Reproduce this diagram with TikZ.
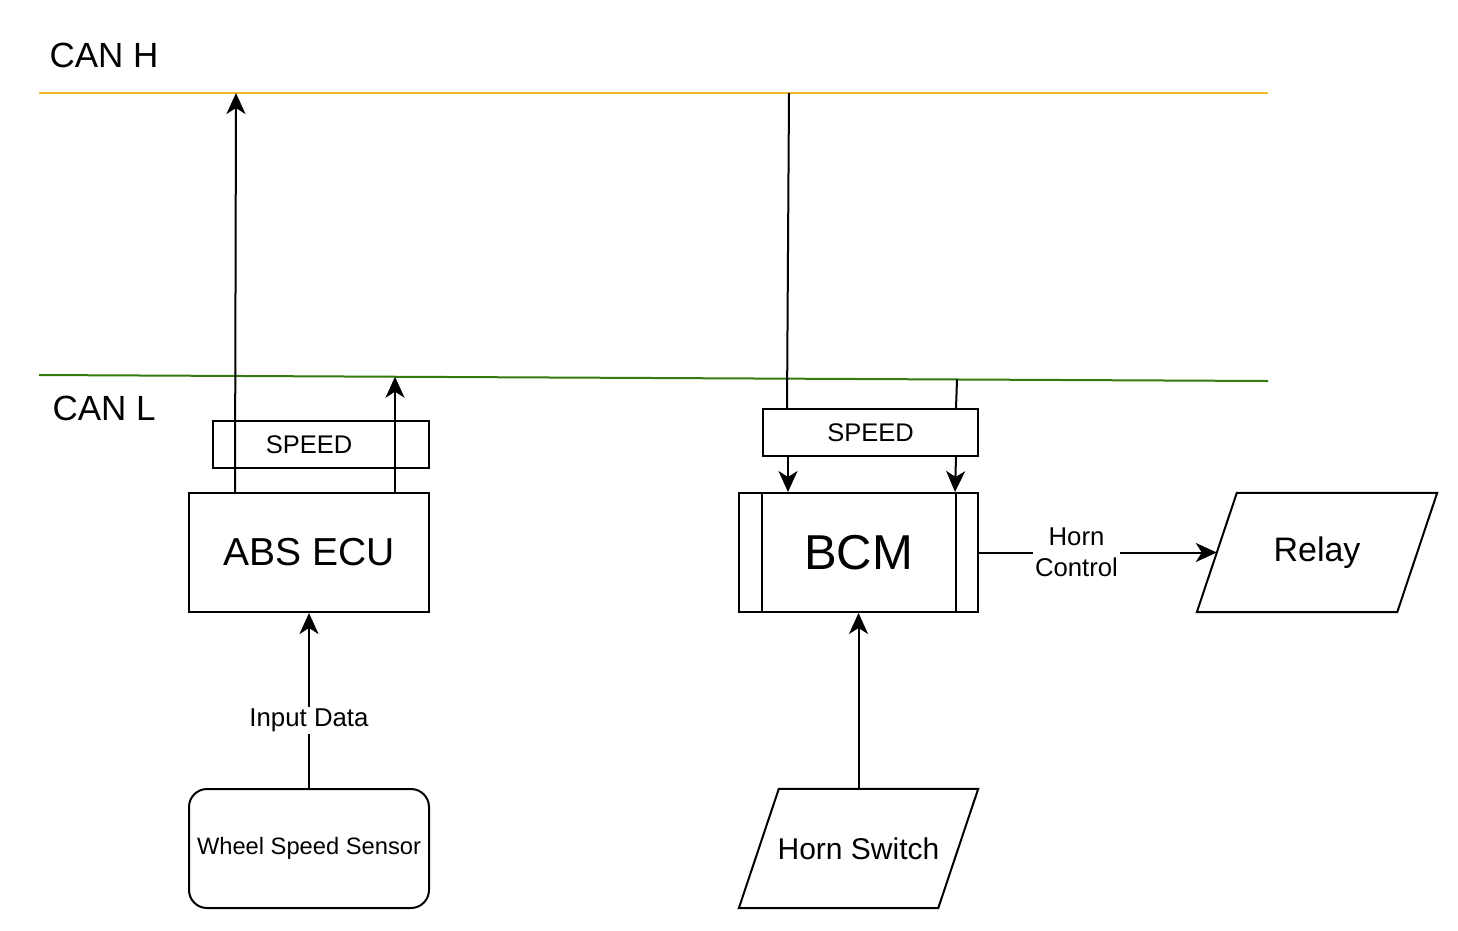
\documentclass[tikz,border=0pt]{standalone}
\usepackage{fontspec}
\setmainfont{Liberation Sans}
\usetikzlibrary{arrows.meta,calc}
\definecolor{canh}{RGB}{238,184,40}
\definecolor{canl}{RGB}{52,122,16}
\newcommand{\fs}[1]{\fontsize{#1}{#1}\selectfont}
\tikzset{
  box/.style={draw,line width=2pt,rectangle,inner sep=0pt,align=center},
  para/.style={rectangle,inner sep=0pt,minimum width=200pt,minimum height=119pt,align=center},
  paraline/.style={line width=2pt,line join=miter},
  conn/.style={line width=2pt},
  arr/.style={line width=2pt,-{Stealth[length=21pt,width=19pt,inset=6pt]}},
  lbl/.style={fill=white,inner sep=2pt,align=center},
}
\begin{document}
\begin{tikzpicture}[x=1pt,y=-1pt]
\useasboundingbox (0,0) rectangle (1458,930);
\fill[white] (0,0) rectangle (1458,930);
% buses
\coordinate (hL) at (39,93);
\coordinate (hR) at (1268,93);
\coordinate (lL) at (39,375);
\coordinate (lR) at (1268,381);
\draw[canh,line width=2pt] (hL) -- (hR);
\draw[canl,line width=2pt] (lL) -- (lR);
\node[anchor=west] (canhlbl) at (46,55) {\fs{35}CAN H};
\node[anchor=west] (canllbl) at (49,408) {\fs{35}CAN L};
% taps
\coordinate (hA) at (236,93);
\coordinate (lA) at (395,376.7);
\coordinate (hB) at (789,93);
\coordinate (lB) at (957,379.5);
% ABS side
\node[box,minimum width=240pt,minimum height=119pt] (abs) at (309,552.5) {\fs{39}ABS ECU};
\node[box,minimum width=216pt,minimum height=47pt] (spdA) at (321,444.5) {};
\node (spdAtxt) at (309,444.5) {\fs{25.5}SPEED};
\node[box,rounded corners=18pt,minimum width=240pt,minimum height=119pt] (wss) at (309,848.5) {\fs{23.7}Wheel Speed Sensor};
\draw[arr] (abs.north -| 235,0) -- (hA);
\draw[arr] (abs.north -| lA) -- (lA);
\draw[arr] (wss.north) -- node[lbl,pos=0.385] {\fs{25.8}Input Data} (abs.south);
% BCM side
\node[box,minimum width=239pt,minimum height=119pt] (bcm) at (858.5,552.5) {\fs{49}BCM};
\draw[line width=2pt] ([xshift=24pt]bcm.north west) -- ([xshift=24pt]bcm.south west);
\draw[line width=2pt] ([xshift=-23pt]bcm.north east) -- ([xshift=-23pt]bcm.south east);
\node[box,minimum width=215pt,minimum height=47pt] (spdB) at (870.5,432.5) {\fs{25.5}SPEED};
\draw[conn] (hB) -- (spdB.north -| 787,0);
\draw[conn] (lB) -- (spdB.north -| 956,0);
\draw[arr] (spdB.south -| 788,0) -- (bcm.north -| 788,0);
\draw[arr] (spdB.south -| 956,0) -- (bcm.north -| 955,0);
% Horn switch (parallelogram)
\node[para,minimum width=199pt] (hsw) at (858.5,848.5) {\fs{30}Horn Switch};
\draw[paraline] ([xshift=-20pt]hsw.south west) -- ([xshift=20pt]hsw.north west)
  -- ([xshift=20pt]hsw.north east) -- ([xshift=-20pt]hsw.south east) -- cycle;
\draw[arr] (hsw.north) -- (bcm.south);
% Relay (parallelogram)
\node[para] (relay) at (1317,552.5) {\fs{34}Relay};
\draw[paraline] ([xshift=-20pt]relay.south west) -- ([xshift=20pt]relay.north west)
  -- ([xshift=20pt]relay.north east) -- ([xshift=-20pt]relay.south east) -- cycle;
\draw[arr] (bcm.east) -- node[lbl,pos=0.41,font=\fontsize{25.7}{31}\selectfont] {Horn\\Control} (relay.west);
\end{tikzpicture}
\end{document}
